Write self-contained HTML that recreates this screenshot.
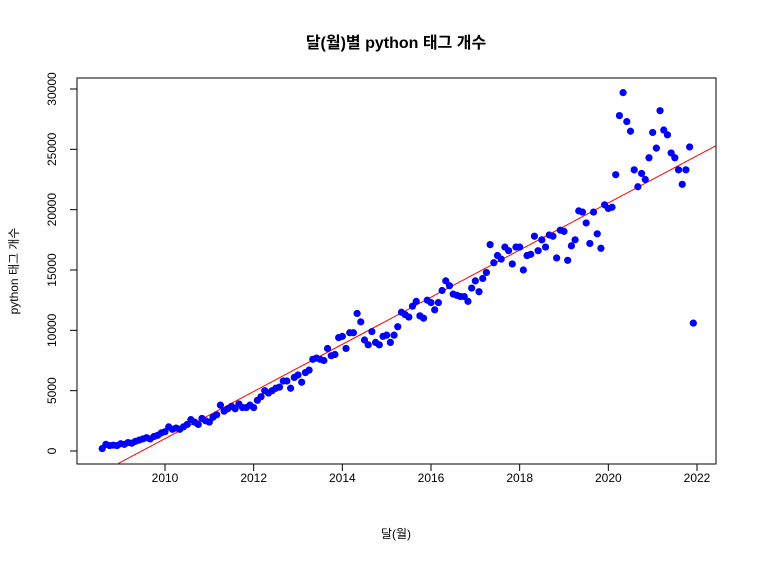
<!DOCTYPE html>
<html><head><meta charset="utf-8"><style>
body{margin:0;background:#fff;}
svg text{font-family:"Liberation Sans","Noto Sans CJK KR",sans-serif;}
</style></head><body>
<svg id="chart" width="757" height="562" xmlns="http://www.w3.org/2000/svg">
<text x="396" y="48" text-anchor="middle" font-size="16" font-weight="bold">달(월)별 python 태그 개수</text>
<text x="396" y="538" text-anchor="middle" font-size="12">달(월)</text>
<text x="18" y="271" text-anchor="middle" font-size="12" transform="rotate(-90 18 271)">python 태그 개수</text>
<rect x="77" y="78" width="639" height="386" fill="none" stroke="#000"/>
<g id="axes"></g><g id="fit"></g><g id="pts"></g>
</svg>
<script>
const startYear = 2008, startMonth = 8;
const counts = [
200,550,450,480,450,
600,550,700,650,800,900,1000,1100,1000,1200,1300,1500,
1600,2000,1800,1900,1800,2000,2200,2600,2400,2200,2700,2500,
2400,2800,3000,3800,3300,3500,3700,3500,3900,3600,3600,3800,
3600,4200,4500,5000,4800,5000,5200,5300,5800,5800,5200,6100,
6300,5700,6500,6700,7600,7700,7600,7500,8500,7900,8000,9400,
9500,8500,9800,9800,11400,10700,9200,8800,9900,9000,8800,9500,
9600,9000,9600,10300,11500,11300,11100,12000,12400,11200,11000,12500,
12300,11700,12300,13300,14100,13700,13000,12900,12800,12800,12400,13500,
14100,13200,14300,14800,17100,15600,16200,15900,16900,16600,15500,16900,
16900,15000,16200,16300,17800,16600,17500,16900,17900,17800,16000,18300,
18200,15800,17000,17500,19900,19800,18900,17200,19800,18000,16800,20400,
20100,20200,22900,27800,29700,27300,26500,23300,21900,23000,22500,24300,
26400,25100,28200,26600,26200,24700,24300,23300,22100,23300,25200,10600];
const xTicks = [2010,2012,2014,2016,2018,2020,2022];
const yTicks = [0,5000,10000,15000,20000,25000,30000];
const NS="http://www.w3.org/2000/svg";
const X = t => 165 + (t-2010)*(697-165)/12;
const Y = v => 451 - v*(451-89)/30000;
function mk(tag, attrs, parent){const e=document.createElementNS(NS,tag);for(const k in attrs)e.setAttribute(k,attrs[k]);parent.appendChild(e);return e;}
const ax=document.getElementById('axes');
xTicks.forEach(t=>{
  const l=mk('line',{x1:X(t),x2:X(t),y1:464,y2:471,stroke:'#000'},ax);
  
  
  const tx=mk('text',{x:X(t),y:482,'text-anchor':'middle','font-size':12},ax);
  tx.textContent=t;
  
  
});
yTicks.forEach(v=>{
  const l=mk('line',{x1:70,x2:77,y1:Y(v),y2:Y(v),stroke:'#000'},ax);
  
  
  const tx=mk('text',{x:56,y:Y(v),'text-anchor':'middle','font-size':12,transform:`rotate(-90 56 ${Y(v)})`},ax);
  tx.textContent=v;
  
  
});
const ts = counts.map((c,i)=>startYear+(startMonth-1+i)/12);
const n=ts.length, mx=ts.reduce((a,b)=>a+b)/n, my=counts.reduce((a,b)=>a+b)/n;
let sxy=0,sxx=0;ts.forEach((t,i)=>{sxy+=(t-mx)*(counts[i]-my);sxx+=(t-mx)**2;});
const b=sxy/sxx,a=my-b*mx;
const fg=document.getElementById('fit');
const cp=mk('clipPath',{id:'clip'},fg);mk('rect',{x:77,y:78,width:639,height:386},cp);
const fl=mk('line',{x1:X(2008),y1:Y(a+b*2008),x2:X(2023),y2:Y(a+b*2023),stroke:'#ff0000','stroke-width':1,'clip-path':'url(#clip)'},fg);


const pg=document.getElementById('pts');
counts.forEach((c,i)=>{
  const p=mk('circle',{cx:X(ts[i]),cy:Y(c),r:3.6,fill:'#0000ff'},pg);
  
  
});
</script>
</body></html>
